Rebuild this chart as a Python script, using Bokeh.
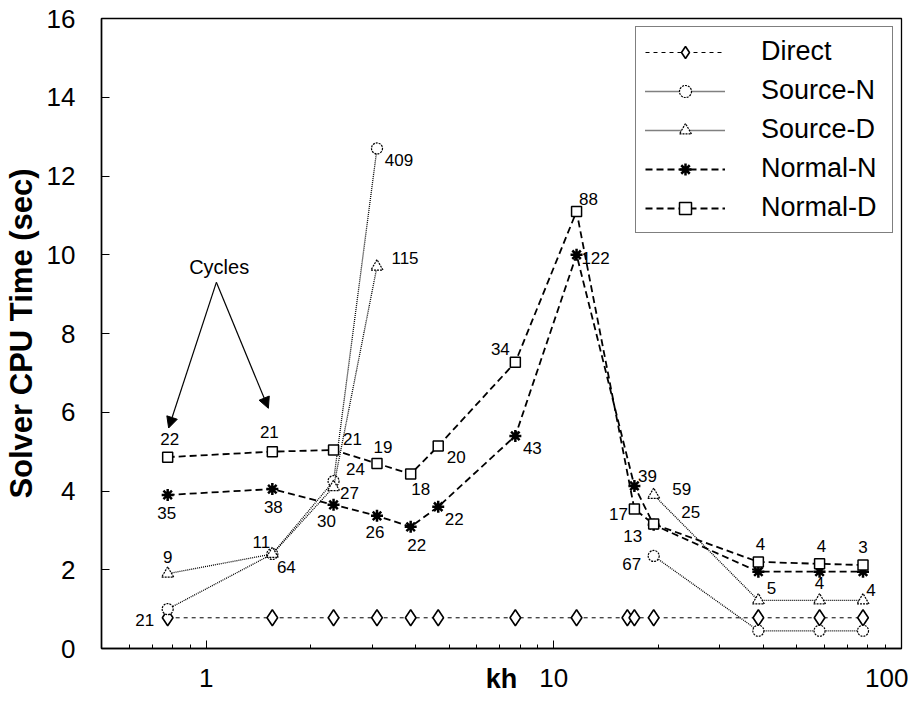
import math
from bokeh.plotting import figure
from bokeh.models import (FixedTicker, Legend, LegendItem, Label,
                          Arrow, NormalHead, ColumnDataSource, PrintfTickFormatter)
from bokeh.core.properties import value
from bokeh.embed import file_html
from bokeh.resources import INLINE

# ---------------- data ----------------
kh_all = [0.775, 1.55, 2.325, 3.1, 3.875, 4.65, 7.75, 11.625, 16.275, 17.05, 19.375, 38.75, 58.125, 77.5]
direct = [0.78, 0.78, 0.78, 0.78, 0.78, 0.78, 0.78, 0.78, 0.78, 0.78, 0.78, 0.78, 0.78, 0.78]

kh_src = [0.775, 1.55, 2.325, 3.1, 19.375, 38.75, 58.125, 77.5]
source_n = [1.0, 2.4, 4.25, 12.7, 2.35, 0.45, 0.45, 0.45]
source_n_cycles = ["21", "64", "24", "409", "67", "", "", ""]
source_d = [1.9, 2.4, 4.1, 9.7, 3.9, 1.22, 1.22, 1.22]
source_d_cycles = ["9", "11", "27", "115", "59", "5", "4", "4"]

kh_norm = [0.775, 1.55, 2.325, 3.1, 3.875, 4.65, 7.75, 11.625, 17.05, 19.375, 38.75, 58.125, 77.5]
normal_n = [3.9, 4.05, 3.65, 3.37, 3.09, 3.6, 5.4, 10.0, 4.13, 3.14, 1.95, 1.95, 1.95]
normal_n_cycles = ["35", "38", "30", "26", "22", "22", "43", "122", "39", "25", "", "", ""]
normal_d = [4.86, 5.0, 5.04, 4.7, 4.43, 5.14, 7.27, 11.1, 3.54, 3.16, 2.2, 2.15, 2.12]
normal_d_cycles = ["22", "21", "21", "19", "18", "20", "34", "88", "17", "13", "4", "4", "3"]

x_ticks = [1, 10, 100]
x_minor = [0.5, 0.6, 0.7, 0.8, 0.9, 2, 3, 4, 5, 6, 7, 8, 9, 20, 30, 40, 50, 60, 70, 80, 90]
y_ticks = [0, 2, 4, 6, 8, 10, 12, 14, 16]

# label placement (screen-pixel offsets, style only)
src_gap_after = 4  # Source series are not measured between these kh values
off_sn = [(-23, 11), (14, 13), (22, -12), (22, 12), (-22, 8), (0, 0), (0, 0), (0, 0)]
off_sd = [(0, -17), (-11, -12), (16, 6), (28, -9), (28, -6), (13, -12), (0, -17), (8, -10)]
off_nn = [(-1, 18), (1, 18), (-7, 16), (-2, 16), (6, 18), (16, 12), (17, 12), (19, 3),
          (13, -10), (37, -13), (0, 0), (0, 0), (0, 0)]
off_nd = [(2, -18), (-3, -20), (19, -11), (6, -16), (10, 15), (18, 11), (-15, -13), (12, -12),
          (-16, 5), (-21, 12), (2, -18), (2, -18), (0, -18)]

FONT = value("Liberation Sans")

p = figure(width=908, height=703, x_axis_type="log", x_range=(0.5, 100), y_range=(0, 16),
           output_backend="svg", toolbar_location=None,
           min_border_left=99, min_border_right=7, min_border_top=18, min_border_bottom=55)
p.xgrid.visible = False
p.ygrid.visible = False
p.outline_line_color = "black"
p.outline_line_width = 1.3
p.background_fill_color = "white"
p.border_fill_color = "white"


def style_axis(ax):
    ax.axis_line_color = "black"
    ax.axis_line_width = 1.5
    ax.major_tick_in = 8
    ax.major_tick_out = 0
    ax.minor_tick_in = 4
    ax.minor_tick_out = 0
    ax.major_tick_line_color = "black"
    ax.minor_tick_line_color = "black"
    ax.major_label_text_font = "Liberation Sans"
    ax.major_label_text_color = "black"
    ax.major_label_text_font_size = "26px"
    ax.axis_label_text_font = "Liberation Sans"
    ax.axis_label_text_font_style = "bold"
    ax.axis_label_text_color = "black"


xa = p.xaxis[0]
xa.ticker = FixedTicker(ticks=x_ticks, minor_ticks=x_minor)
xa.formatter = PrintfTickFormatter(format="%d")
style_axis(xa)
xa.major_label_standoff = 20
xa.axis_label = "kh"
xa.axis_label_text_font_size = "27px"
xa.axis_label_standoff = -26

ya = p.yaxis[0]
ya.ticker = FixedTicker(ticks=y_ticks, minor_ticks=[])
style_axis(ya)
ya.major_label_standoff = 26
ya.axis_label = "Solver CPU Time (sec)"
ya.axis_label_text_font_size = "31px"
ya.axis_label_standoff = 5


def with_gap(xs, ys, gap_index):
    gx = list(xs[:gap_index]) + [float("nan")] + list(xs[gap_index:])
    gy = list(ys[:gap_index]) + [float("nan")] + list(ys[gap_index:])
    return gx, gy


items = []

# Direct
l_dir = p.line(kh_all, direct, line_color="black", line_width=1, line_dash="4 4")
m_dir = p.scatter(kh_all, direct, marker="diamond", size=16,
                  line_color="black", line_width=1.6, fill_color="white")
items.append(LegendItem(label="Direct", renderers=[l_dir, m_dir]))

# Source-N
gx, gy = with_gap(kh_src, source_n, src_gap_after)
l_sn = p.line(gx, gy, line_color="black", line_width=1.3, line_dash="1 1")
m_sn = p.scatter(kh_src, source_n, marker="circle", size=11, line_color="black",
                 line_width=1.2, line_dash="2 1", fill_color="white")
items.append(LegendItem(label="Source-N", renderers=[l_sn, m_sn]))

# Source-D
gx, gy = with_gap(kh_src, source_d, src_gap_after)
l_sd = p.line(gx, gy, line_color="black", line_width=1.3, line_dash="1 1")
m_sd = p.scatter(kh_src, source_d, marker="triangle", size=12, line_color="black",
                 line_width=1.2, line_dash="2 1", fill_color="white")
items.append(LegendItem(label="Source-D", renderers=[l_sd, m_sd]))

# Normal-N
l_nn = p.line(kh_norm, normal_n, line_color="black", line_width=1.8, line_dash="7 4")
m_nn = p.scatter(kh_norm, normal_n, marker="asterisk", size=12, line_color="black",
                 line_width=2.5)
items.append(LegendItem(label="Normal-N", renderers=[l_nn, m_nn]))

# Normal-D
l_nd = p.line(kh_norm, normal_d, line_color="black", line_width=1.8, line_dash="7 4")
m_nd = p.scatter(kh_norm, normal_d, marker="square", size=10, line_color="black",
                 line_width=1.5, fill_color="white")
items.append(LegendItem(label="Normal-D", renderers=[l_nd, m_nd]))


def add_labels(xs, ys, texts, offs):
    src = ColumnDataSource(dict(x=xs, y=ys, t=texts,
                                dx=[o[0] for o in offs], dy=[o[1] for o in offs]))
    p.text("x", "y", text="t", source=src, x_offset="dx", y_offset="dy",
           text_font=FONT, text_font_size="17px", text_color="black",
           text_align="center", text_baseline="middle")


add_labels(kh_src, source_n, source_n_cycles, off_sn)
add_labels(kh_src, source_d, source_d_cycles, off_sd)
add_labels(kh_norm, normal_n, normal_n_cycles, off_nn)
add_labels(kh_norm, normal_d, normal_d_cycles, off_nd)

legend = Legend(items=items, location="top_right", margin=8, padding=9,
                glyph_width=80, glyph_height=30, spacing=8, label_standoff=36,
                label_width=122, label_text_font="Liberation Sans",
                label_text_font_size="27px", label_text_color="black",
                border_line_color="black", border_line_width=1.2,
                background_fill_color="white", background_fill_alpha=1.0)
p.add_layout(legend)

# "Cycles" annotation
cyc_x, cyc_y = 1.09, 9.7
arr_start = (1.07, 9.3)
arr_ends = [(0.78, 5.6), (1.51, 6.1)]
p.add_layout(Label(x=cyc_x, y=cyc_y, text="Cycles", text_font="Liberation Sans",
                   text_font_size="20px", text_color="black",
                   text_align="center", text_baseline="middle"))
for ex, ey in arr_ends:
    p.add_layout(Arrow(end=NormalHead(size=11, fill_color="black", line_color="black"),
                       x_start=arr_start[0], y_start=arr_start[1], x_end=ex, y_end=ey,
                       line_color="black", line_width=1.2))

open("out.html", "w").write(file_html(p, INLINE))
